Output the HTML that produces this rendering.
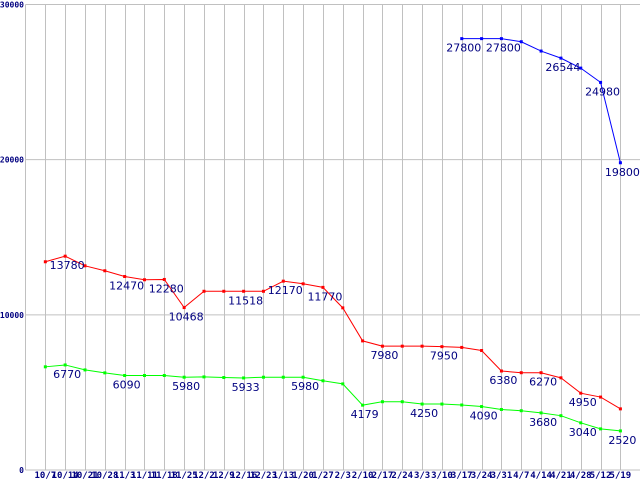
<!DOCTYPE html>
<html><head><meta charset="utf-8"><style>
body{margin:0;background:#fff}
svg{display:block}
.ax{font-family:"DejaVu Sans Mono","Liberation Mono",monospace;font-size:8px;font-weight:bold;fill:#000080}
.axx{font-family:"DejaVu Sans Mono","Liberation Mono",monospace;font-size:9px;font-weight:bold;fill:#000080}
.vl{font-family:"DejaVu Sans","Liberation Sans",sans-serif;font-size:11px;fill:#000080}
</style></head><body>
<svg id="chart" width="640" height="480" xmlns="http://www.w3.org/2000/svg"></svg>
<script>
const categories=["10/7","10/14","10/21","10/28","11/3","11/11","11/18","11/25","12/2","12/9","12/16","12/23","1/13","1/20","1/27","2/3","2/10","2/17","2/24","3/3","3/10","3/17","3/24","3/31","4/7","4/14","4/21","4/28","5/12","5/19"];
const redValues=[13420,13780,13160,12840,12470,12260,12280,10468,11518,11518,11518,11518,12170,12000,11770,10450,8320,7980,7980,7980,7950,7900,7700,6380,6270,6270,5940,4950,4700,3940];
const greenValues=[6650,6770,6450,6260,6090,6090,6090,5980,6000,5960,5933,5980,5980,5980,5750,5550,4179,4400,4400,4250,4250,4190,4090,3900,3820,3680,3500,3040,2650,2520];
const blueValues=[null,null,null,null,null,null,null,null,null,null,null,null,null,null,null,null,null,null,null,null,null,27800,27800,27800,27600,27000,26544,25900,24980,19800];
const redLabels=[1,4,6,7,10,12,14,17,20,23,25,27];
const greenLabels=[1,4,7,10,13,16,19,22,25,27,29];
const blueLabels=[21,23,26,28,29];
const yTicks=[0,10000,20000,30000];
const NS="http://www.w3.org/2000/svg";
const svg=document.getElementById('chart');
const x0=25.5,step=19.83,yBase=470,yTop=4.5,yMax=30000;
const X=i=>x0+(i+1)*step;
const Y=v=>yBase-(v/yMax)*(yBase-yTop);
function mk(t,a){const e=document.createElementNS(NS,t);for(const k in a)e.setAttribute(k,a[k]);svg.appendChild(e);return e;}
categories.forEach((c,i)=>{const l=mk('line',{x1:Math.round(X(i))+0.5,x2:Math.round(X(i))+0.5,y1:yTop,y2:yBase,stroke:'#c0c0c0'});


const t=mk('text',{x:X(i),y:478,'text-anchor':'middle',class:'axx'});t.textContent=c;

});
yTicks.forEach(v=>{const l=mk('line',{x1:x0,x2:640,y1:Y(v),y2:Y(v),stroke:'#c0c0c0'});


const t=mk('text',{x:24,y:Y(v)+3,'text-anchor':'end',class:'ax'});t.textContent=String(v);

});
const ax=mk('line',{x1:x0,x2:x0,y1:yTop,y2:yBase,stroke:'#c0c0c0'});


function series(vals,color,labels,name){
 const pts=[];vals.forEach((v,i)=>{if(v!=null)pts.push([X(i),Y(v)]);});
 const p=mk('polyline',{points:pts.map(p=>p.join(',')).join(' '),fill:'none',stroke:color,'stroke-width':1});
 
 
 pts.forEach(q=>{const r=mk('rect',{x:q[0]-1.5,y:q[1]-1.5,width:3,height:3,fill:color});
 
 });
 labels.forEach(i=>{const t=mk('text',{x:X(i)+2,y:Y(vals[i])+13,'text-anchor':'middle',class:'vl'});t.textContent=String(vals[i]);
 
 });
}
series(redValues,'#ff0000',redLabels,'red-series');
series(greenValues,'#00ff00',greenLabels,'green-series');
series(blueValues,'#0000ff',blueLabels,'blue-series');
</script>
</body></html>
